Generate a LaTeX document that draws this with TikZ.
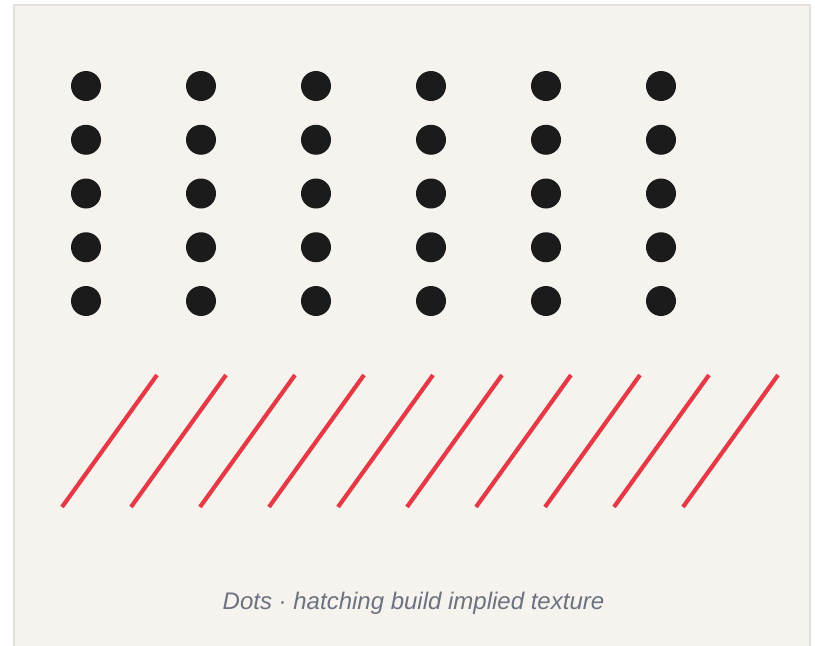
\documentclass[tikz,border=0pt]{standalone}
\usepackage{fontspec}
\setmainfont{Liberation Sans}
\usetikzlibrary{positioning}
\definecolor{paper}{HTML}{F6F3EF}
\definecolor{frame}{HTML}{E2E0DC}
\definecolor{ink}{HTML}{1B1B1B}
\definecolor{hatch}{HTML}{E63946}
\definecolor{caption}{HTML}{6B7280}
\begin{document}
\begin{tikzpicture}[
  x=1pt, y=-1pt,
  panel/.style={draw=frame, line width=2pt, fill=paper},
  dot/.style={circle, fill=ink, minimum size=30pt, inner sep=0pt},
  hline/.style={draw=hatch, line width=4.2pt},
  capt/.style={font=\fontsize{24}{28}\selectfont\itshape, text=caption}
]
\useasboundingbox (0,0) rectangle (815,646);
\clip (0,0) rectangle (815,646);
\draw[panel] (13.5,4.5) rectangle (810,660);
% dot field: six columns, five rows
\foreach \i in {0,...,5}
  \foreach \j in {0,...,4}
    \node[dot] (d-\i-\j) at (86+115*\i, 86+53.75*\j) {};
% hatching strokes
\foreach \k in {0,...,9} {
  \coordinate (h-\k-a) at (62+69*\k, 507);
  \coordinate (h-\k-b) at (157+69*\k, 375);
  \draw[hline] (h-\k-a) -- (h-\k-b);
}
\node[capt] (cap) at (413.5,603) {Dots · hatching build implied texture};
\end{tikzpicture}
\end{document}
